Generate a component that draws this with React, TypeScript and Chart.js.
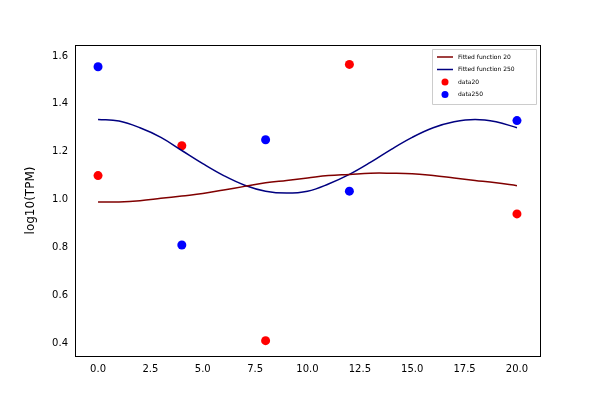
import React, { useEffect, useRef } from "react";
import { Chart, registerables } from "chart.js";
Chart.register(...registerables);

const fitX = [0,1,2,3,4,5,6,7,8,9,10,11,12,13,14,15,16,17,18,19,20];
const fit20 = [0.99,0.99,0.995,1.005,1.015,1.025,1.04,1.055,1.07,1.08,1.09,1.10,1.105,1.11,1.11,1.108,1.10,1.09,1.08,1.07,1.058];
const fit250 = [1.335,1.328,1.30,1.26,1.205,1.15,1.10,1.06,1.035,1.027,1.035,1.065,1.105,1.155,1.21,1.26,1.30,1.325,1.335,1.325,1.30];
const dataX = [0,4,8,12,20];
const data20 = [1.10,1.225,0.41,1.565,0.94];
const data250 = [1.555,0.81,1.25,1.035,1.33];
const xTicks = [0,2.5,5,7.5,10,12.5,15,17.5,20];
const yTicks = [0.4,0.6,0.8,1.0,1.2,1.4,1.6];
const yTitle = "log10(TPM)";

const legendItems = [
  { label: "Fitted function 20", color: "#800000", line: true },
  { label: "Fitted function 250", color: "#000080", line: true },
  { label: "data20", color: "#ff0000", line: false },
  { label: "data250", color: "#0000ff", line: false },
];

const legendPlugin = {
  id: "mylegend",
  afterDraw(chart: any) {
    const ctx = chart.ctx;
    const a = chart.chartArea;
    ctx.save();
    // frame
    ctx.strokeStyle = "#000";
    ctx.lineWidth = 1;
    ctx.strokeRect(a.left + 0.5, a.top + 0.5, a.right - a.left, a.bottom - a.top);
    // y title
    ctx.translate(31, (a.top + a.bottom) / 2);
    ctx.rotate(-Math.PI / 2);
    ctx.fillStyle = "#000";
    ctx.font = "12px 'DejaVu Sans'";
    ctx.textAlign = "center";
    ctx.textBaseline = "middle";
    ctx.fillText(yTitle, 0, 0);
    ctx.restore();

    ctx.save();
    const w = 104, h = 55;
    const x0 = a.right - w - 4, y0 = a.top + 4;
    ctx.fillStyle = "rgba(255,255,255,0.8)";
    ctx.strokeStyle = "#cccccc";
    ctx.lineWidth = 1;
    ctx.beginPath();
    ctx.rect(x0 + 0.5, y0 + 0.5, w, h);
    ctx.fill();
    ctx.stroke();
    ctx.font = "6px 'DejaVu Sans'";
    ctx.textBaseline = "middle";
    legendItems.forEach((it, i) => {
      const y = y0 + 8 + i * 12.5;
      if (it.line) {
        ctx.strokeStyle = it.color;
        ctx.lineWidth = 1.5;
        ctx.beginPath();
        ctx.moveTo(x0 + 5, y);
        ctx.lineTo(x0 + 21, y);
        ctx.stroke();
      } else {
        ctx.fillStyle = it.color;
        ctx.beginPath();
        ctx.arc(x0 + 13, y, 3.5, 0, Math.PI * 2);
        ctx.fill();
      }
      ctx.fillStyle = "#000";
      ctx.fillText(it.label, x0 + 26, y);
    });
    ctx.restore();
  },
};

export default function App() {
  const ref = useRef<HTMLCanvasElement>(null);
  useEffect(() => {
    const c = new Chart(ref.current!, {
      type: "scatter",
      data: {
        datasets: [
          { type: "line", label: "Fitted function 20", data: fitX.map((x, i) => ({ x, y: fit20[i] })), borderColor: "#800000", borderWidth: 1.5, pointRadius: 0, tension: 0.4 } as any,
          { type: "line", label: "Fitted function 250", data: fitX.map((x, i) => ({ x, y: fit250[i] })), borderColor: "#000080", borderWidth: 1.5, pointRadius: 0, tension: 0.4 } as any,
          { label: "data20", data: dataX.map((x, i) => ({ x, y: data20[i] })), backgroundColor: "#ff0000", borderWidth: 0, pointRadius: 4.5 },
          { label: "data250", data: dataX.map((x, i) => ({ x, y: data250[i] })), backgroundColor: "#0000ff", borderWidth: 0, pointRadius: 4.5 },
        ],
      },
      options: {
        animation: false,
        responsive: false,
        layout: { padding: { top: 45, right: 60, left: 0, bottom: 0 } },
        plugins: { legend: { display: false }, tooltip: { enabled: false } },
        scales: {
          x: {
            type: "linear", min: -1.1, max: 21.1,
            grid: { display: false, drawTicks: true, tickLength: 4, tickColor: "#000" } as any,
            border: { color: "#000" },
            afterBuildTicks: (s: any) => { s.ticks = xTicks.map((v) => ({ value: v })); },
            afterFit: (s: any) => { s.height = 44; },
            ticks: { color: "#000", font: { family: "DejaVu Sans", size: 10 }, callback: (v: any) => Number(v).toFixed(1), maxRotation: 0, autoSkip: false },
          },
          y: {
            min: 0.346, max: 1.646,
            grid: { display: false, drawTicks: true, tickLength: 4, tickColor: "#000" } as any,
            border: { color: "#000" },
            afterBuildTicks: (s: any) => { s.ticks = yTicks.map((v) => ({ value: v })); },
            afterFit: (s: any) => { s.width = 75; },
            ticks: { color: "#000", font: { family: "DejaVu Sans", size: 10 }, callback: (v: any) => Number(v).toFixed(1), autoSkip: false },
          },
        },
      },
      plugins: [legendPlugin],
    });
    return () => c.destroy();
  }, []);
  return (
    <div style={{ position: "absolute", left: 0, top: 0, background: "#fff" }}>
      <canvas ref={ref} width={600} height={400} style={{ width: 600, height: 400 }} />
    </div>
  );
}
